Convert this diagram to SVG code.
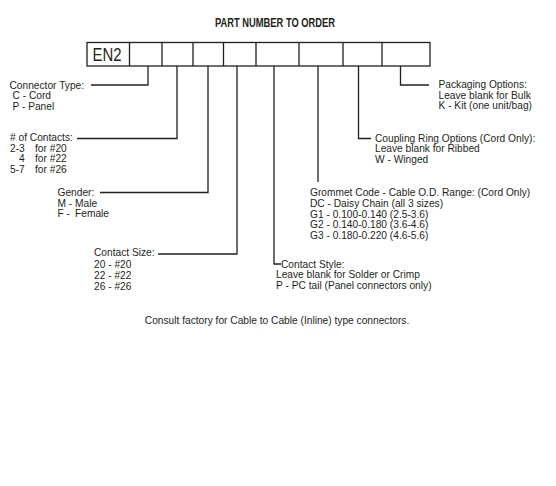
<svg xmlns="http://www.w3.org/2000/svg" width="556" height="486" viewBox="0 0 556 486">
<style>
.t{font-family:"Liberation Sans",Arial,sans-serif;font-size:10.2px;fill:#231f20}
.ttl{font-family:"Liberation Sans Narrow","Liberation Sans",Arial,sans-serif;font-size:12px;font-weight:bold;fill:#231f20}
.box{fill:#fff;stroke:#231f20;stroke-width:1.3}
.ln{fill:none;stroke:#231f20;stroke-width:1.3}
</style>
<rect width="556" height="486" fill="#fff"/>
<text class="ttl" x="215" y="27" textLength="120" lengthAdjust="spacingAndGlyphs">PART NUMBER TO ORDER</text>
<g id="part-boxes">
<rect class="box" x="87" y="42.5" width="343" height="23.5"/>
<path class="ln" d="M129.5,42.5V66M162,42.5V66M193,42.5V66M223.5,42.5V66M256,42.5V66M299,42.5V66M343,42.5V66M382,42.5V66"/>
<text class="t" x="92.5" y="61" style="font-size:19px" textLength="29" lengthAdjust="spacingAndGlyphs">EN2</text>
</g>
<g id="connectors">
<path class="ln" d="M148,66V85H91"/>
<path class="ln" d="M177,66V138.5H77"/>
<path class="ln" d="M208,66V192.5H100"/>
<path class="ln" d="M237,66V254H158"/>
<path class="ln" d="M274,66V264H281"/>
<path class="ln" d="M318,66V182"/>
<path class="ln" d="M358.5,66V138.5H371"/>
<path class="ln" d="M400.5,66V85H429"/>
</g>
<g id="connector-type">
<text class="t" x="9.5" y="88.5">Connector Type:</text>
<text class="t" x="12.5" y="99">C  - Cord</text>
<text class="t" x="12.5" y="109.5">P  - Panel</text>
</g>
<g id="num-contacts">
<text class="t" x="10" y="141">&#35; of Contacts:</text>
<text class="t" x="10" y="151.5">2-3<tspan x="35">for #20</tspan></text>
<text class="t" x="19" y="162">4<tspan x="35">for #22</tspan></text>
<text class="t" x="10" y="172.5">5-7<tspan x="35">for #26</tspan></text>
</g>
<g id="gender">
<text class="t" x="57.5" y="196">Gender:</text>
<text class="t" x="57.5" y="206.5">M - Male</text>
<text class="t" x="57.5" y="217">F  -<tspan x="75">Female</tspan></text>
</g>
<g id="contact-size">
<text class="t" x="94" y="256">Contact Size:</text>
<text class="t" x="94" y="268">20 - #20</text>
<text class="t" x="94" y="279">22 - #22</text>
<text class="t" x="94" y="290">26 - #26</text>
</g>
<g id="contact-style">
<text class="t" x="281" y="267.5">Contact Style:</text>
<text class="t" x="276" y="278">Leave blank for Solder or Crimp</text>
<text class="t" x="276" y="288.5">P  - PC tail (Panel connectors only)</text>
</g>
<g id="grommet-code">
<text class="t" x="310" y="196">Grommet Code - Cable O.D. Range: (Cord Only)</text>
<text class="t" x="310" y="206.7">DC  - Daisy Chain (all 3 sizes)</text>
<text class="t" x="310" y="217.5">G1  - 0.100-0.140 (2.5-3.6)</text>
<text class="t" x="310" y="228.3">G2  - 0.140-0.180 (3.6-4.6)</text>
<text class="t" x="310" y="239">G3  - 0.180-0.220 (4.6-5.6)</text>
</g>
<g id="coupling-ring">
<text class="t" x="375" y="141.5">Coupling Ring Options (Cord Only):</text>
<text class="t" x="375" y="152">Leave blank for Ribbed</text>
<text class="t" x="375" y="162.5">W  - Winged</text>
</g>
<g id="packaging">
<text class="t" x="438.5" y="88">Packaging Options:</text>
<text class="t" x="438.5" y="98.5">Leave blank for Bulk</text>
<text class="t" x="438.5" y="109">K  - Kit (one unit/bag)</text>
</g>
<text class="t" x="277" y="324" text-anchor="middle">Consult factory for Cable to Cable (Inline) type connectors.</text>
</svg>
